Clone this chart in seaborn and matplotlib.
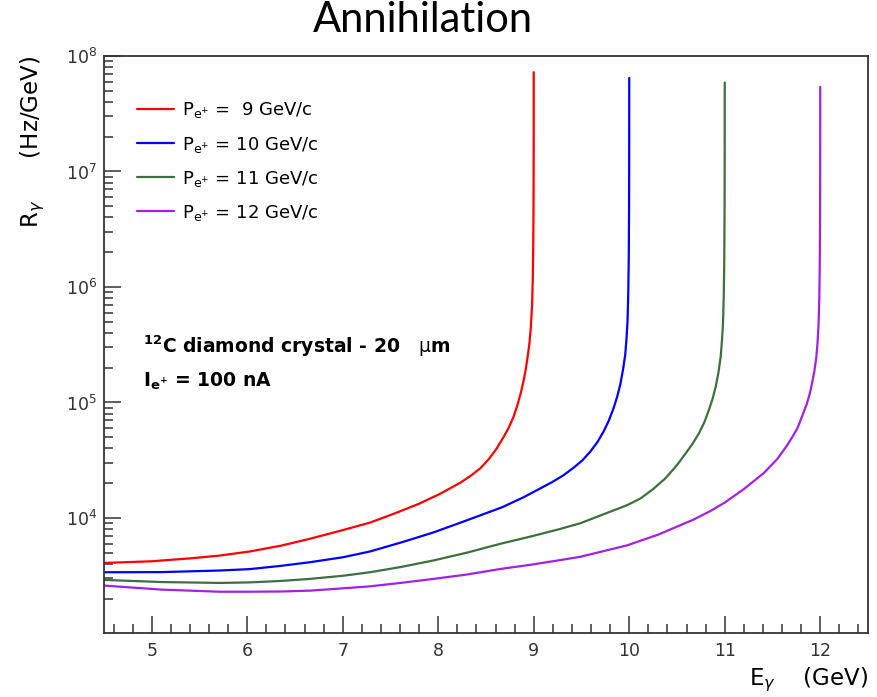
import matplotlib
matplotlib.use("Agg")
import matplotlib.pyplot as plt
import seaborn as sns
from matplotlib.ticker import LogLocator, MultipleLocator, NullFormatter

# photon energy (GeV) and rate (Hz/GeV)
e_p9 = [4.5, 5.0, 5.4, 5.713, 6.027, 6.35, 6.656, 7.0, 7.285, 7.55, 7.80, 8.02, 8.23, 8.34, 8.44, 8.53,
        8.61, 8.683, 8.735, 8.788, 8.83, 8.865, 8.892, 8.915, 8.934, 8.953, 8.969, 8.983, 8.99, 8.995,
        8.998, 8.999, 8.9995, 8.99985]
r_p9 = [4.08e3, 4.22e3, 4.47e3, 4.73e3, 5.13e3, 5.75e3, 6.61e3, 7.85e3, 9.12e3, 1.10e4, 1.33e4, 1.62e4, 2.02e4, 2.32e4, 2.69e4, 3.24e4,
        3.98e4, 5.01e4, 5.98e4, 7.50e4, 9.55e4, 1.22e5, 1.52e5, 1.91e5, 2.43e5, 3.16e5, 4.43e5, 7.08e5, 1.20e6, 2.40e6,
        6.03e6, 1.20e7, 2.40e7, 7.24e7]

e_p10 = [4.5, 5.1, 5.713, 6.027, 6.35, 6.656, 7.0, 7.285, 7.62, 7.95, 8.3, 8.67, 8.892, 9.19, 9.31, 9.416,
         9.51, 9.591, 9.665, 9.731, 9.787, 9.836, 9.873, 9.906, 9.934, 9.958, 9.971, 9.982, 9.99, 9.995,
         9.998, 9.999, 9.9995, 9.99985]
r_p10 = [3.39e3, 3.40e3, 3.51e3, 3.61e3, 3.85e3, 4.14e3, 4.57e3, 5.13e3, 6.17e3, 7.50e3, 9.55e3, 1.24e4, 1.51e4, 2.04e4, 2.34e4, 2.72e4,
         3.16e4, 3.75e4, 4.52e4, 5.60e4, 7.00e4, 8.93e4, 1.12e5, 1.43e5, 1.91e5, 2.60e5, 3.55e5, 5.06e5, 9.12e5, 1.82e6,
         4.57e6, 9.12e6, 1.82e7, 6.46e7]

e_p11 = [4.5, 5.1, 5.713, 6.027, 6.35, 6.656, 7.0, 7.285, 7.62, 7.95, 8.3, 8.65, 8.97, 9.277, 9.49,
         9.976, 10.12, 10.25, 10.38, 10.5, 10.591, 10.665, 10.731, 10.787, 10.836, 10.873, 10.906, 10.934,
         10.958, 10.971, 10.982, 10.99, 10.995, 10.998, 10.999, 10.9995, 10.99985]
r_p11 = [2.91e3, 2.79e3, 2.74e3, 2.77e3, 2.85e3, 2.97e3, 3.16e3, 3.39e3, 3.78e3, 4.29e3, 5.01e3, 5.98e3, 6.92e3, 8.04e3, 9.02e3,
         1.29e4, 1.48e4, 1.78e4, 2.21e4, 2.87e4, 3.63e4, 4.42e4, 5.43e4, 6.76e4, 8.71e4, 1.08e5, 1.38e5, 1.82e5,
         2.51e5, 3.47e5, 4.90e5, 8.71e5, 1.74e6, 4.37e6, 8.71e6, 1.74e7, 5.89e7]

e_p12 = [4.5, 5.1, 5.713, 6.027, 6.35, 6.656, 7.0, 7.285, 7.62, 7.95, 8.3, 8.65, 8.97, 9.277, 9.49,
         9.976, 10.3, 10.67, 10.85, 11.0, 11.2, 11.409, 11.55, 11.65, 11.71, 11.76, 11.81, 11.86, 11.89,
         11.915, 11.938, 11.958, 11.971, 11.982, 11.99, 11.995, 11.998, 11.999, 11.9995, 11.99985]
r_p12 = [2.60e3, 2.40e3, 2.30e3, 2.30e3, 2.31e3, 2.35e3, 2.46e3, 2.56e3, 2.75e3, 2.97e3, 3.24e3, 3.62e3, 3.94e3, 4.32e3, 4.62e3,
         5.79e3, 7.16e3, 9.66e3, 1.15e4, 1.36e4, 1.78e4, 2.45e4, 3.24e4, 4.22e4, 5.07e4, 5.96e4, 7.59e4, 9.77e4, 1.19e5,
         1.48e5, 1.86e5, 2.43e5, 3.24e5, 4.68e5, 7.94e5, 1.58e6, 3.98e6, 7.94e6, 1.58e7, 5.41e7]

momenta = [" 9", "10", "11", "12"]
energies = [e_p9, e_p10, e_p11, e_p12]
rates = [r_p9, r_p10, r_p11, r_p12]
colors = ["#ff0000", "#0000ff", "#3f6e3f", "#a321e0"]

sns.set_style("ticks", {"axes.edgecolor": "#333333", "text.color": "black",
                        "xtick.color": "#333333", "ytick.color": "#333333",
                        "axes.labelcolor": "black"})
plt.rcParams["font.family"] = ["DejaVu Sans"]
plt.rcParams["mathtext.fontset"] = "dejavusans"

fig = plt.figure(figsize=(8.78, 6.97), dpi=100)
ax = fig.add_axes([104 / 878, 64 / 697, 764 / 878, 577 / 697])

for p, e, r, c in zip(momenta, energies, rates, colors):
    lab = r"P$_{\mathrm{e}^{+}}$ = " + p + " GeV/c"
    sns.lineplot(x=e, y=r, color=c, lw=1.6, ax=ax, label=lab, estimator=None, sort=False)

ax.set_yscale("log")
ax.set_xlim(4.5, 12.5)
ax.set_ylim(1.01e3, 1e8)

ax.xaxis.set_major_locator(MultipleLocator(1))
ax.xaxis.set_minor_locator(MultipleLocator(0.2))
ax.yaxis.set_major_locator(LogLocator(base=10, numticks=12))
ax.yaxis.set_minor_locator(LogLocator(base=10, subs=range(2, 10), numticks=12))
ax.yaxis.set_minor_formatter(NullFormatter())

ax.tick_params(which="both", direction="in", top=False, right=False, width=1.1)
ax.tick_params(which="major", length=12.5)
ax.tick_params(which="minor", length=6.5)
ax.tick_params(axis="x", labelsize=12.5, pad=6.5)
ax.tick_params(axis="y", labelsize=12.5, pad=5)
for s in ax.spines.values():
    s.set_linewidth(1.3)

ax.set_xlabel(r"E$_{\gamma}$    (GeV)", fontsize=16.5, loc="right")
ax.xaxis.set_label_coords(1.0, -0.09)
ax.xaxis.label.set_va("baseline")
ax.set_ylabel(r"R$_{\gamma}$      (Hz/GeV)", fontsize=16.5, loc="top")
ax.yaxis.set_label_coords(-0.075, 1.0)

ax.set_title("Annihilation", fontsize=30, fontfamily="Lato", x=0.4175, pad=17)

ax.legend(loc="upper left", bbox_to_anchor=(0.0432, 0.923), frameon=False, fontsize=13,
          borderaxespad=0, borderpad=0, handlelength=2.05, handletextpad=0.44, labelspacing=0.78)

ax.text(0.051, 0.485, r"$^{\mathbf{12}}$C diamond crystal - 20   $\mathrm{\mu}$m",
        transform=ax.transAxes, fontsize=13.5, fontweight="bold", va="baseline")
ax.text(0.051, 0.426, r"I$_{\mathbf{e}^{\mathbf{+}}}$ = 100 nA",
        transform=ax.transAxes, fontsize=13.5, fontweight="bold", va="baseline")

fig.savefig("out.png", dpi=100)
